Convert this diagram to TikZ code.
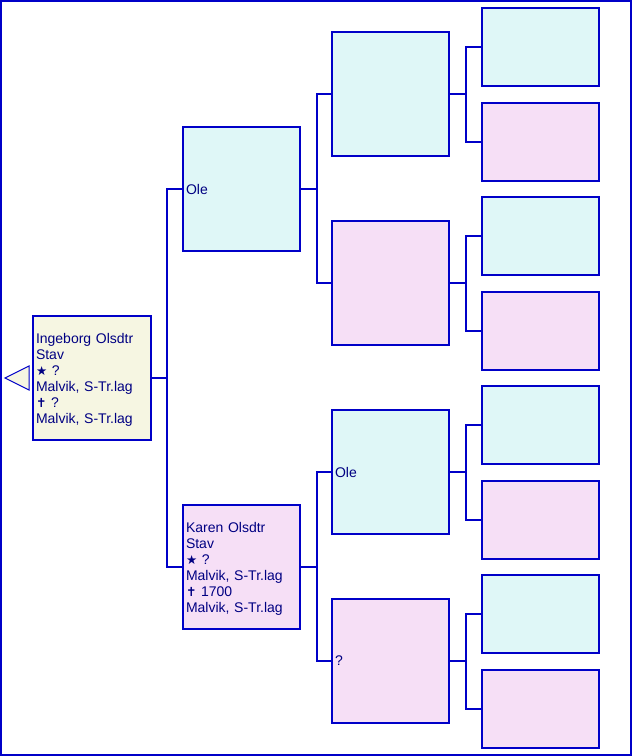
\documentclass[tikz,border=0pt]{standalone}
\usepackage{fontspec}
\usetikzlibrary{calc}
\setmainfont{Liberation Sans}
\newfontfamily\symf{DejaVu Sans}
\newcommand\bstar{{\symf\fontsize{12.5pt}{16pt}\selectfont ★}}
\newcommand\dcross{{\symf\fontsize{12.5pt}{16pt}\selectfont ✝}}
\newcommand\topstrut{\rule{0pt}{14pt}}
\definecolor{lnblue}{RGB}{0,0,200}
\definecolor{txblue}{RGB}{0,0,130}
\definecolor{mfill}{RGB}{223,247,247}
\definecolor{ffill}{RGB}{246,223,246}
\definecolor{rfill}{RGB}{246,246,226}
\tikzset{
  pbox/.style={draw=lnblue, line width=2pt, rectangle, inner xsep=3pt, inner ysep=0pt,
    text width=111pt, align=left, text=txblue,
    font=\fontsize{14pt}{16pt}\selectfont, anchor=center},
  bigbox/.style={pbox, minimum height=124pt},
  smallbox/.style={pbox, minimum height=78pt},
  male/.style={fill=mfill},
  female/.style={fill=ffill},
  conn/.style={draw=lnblue, line width=2pt}
}
\begin{document}
\begin{tikzpicture}[x=1pt,y=-1pt]
\useasboundingbox (0,0) rectangle (632,756);
\draw[lnblue, line width=2pt] (1,1) rectangle (631,755);
% root
\node[bigbox, fill=rfill, text width=112pt] (r) at (92,378) {\topstrut Ingeborg Olsdtr\\Stav\\\bstar\ ?\\Malvik, S-Tr.lag\\\dcross\ ?\\Malvik, S-Tr.lag};
\draw[lnblue, line width=1pt, fill=rfill] (29,366) -- (5,378) -- (29,390) -- cycle;
% gen1
\node[bigbox, male] (f) at (241.5,189) {Ole};
\node[bigbox, female] (m) at (241.5,567) {\topstrut Karen Olsdtr\\Stav\\\bstar\ ?\\Malvik, S-Tr.lag\\\dcross\ 1700\\Malvik, S-Tr.lag};
% gen2
\node[bigbox, male] (ff) at (390.5,94) {};
\node[bigbox, female] (fm) at (390.5,283) {};
\node[bigbox, male] (mf) at (390.5,472) {Ole};
\node[bigbox, female] (mm) at (390.5,661) {?};
% gen3
\node[smallbox, male] (fff) at (540.5,47) {};
\node[smallbox, female] (ffm) at (540.5,142) {};
\node[smallbox, male] (fmf) at (540.5,236) {};
\node[smallbox, female] (fmm) at (540.5,331) {};
\node[smallbox, male] (mff) at (540.5,425) {};
\node[smallbox, female] (mfm) at (540.5,520) {};
\node[smallbox, male] (mmf) at (540.5,614) {};
\node[smallbox, female] (mmm) at (540.5,709) {};
% connectors
\coordinate (vr) at (167,378);
\draw[conn] (r.east) -- (vr);
\draw[conn] (f.west) -| (vr) |- (m.west);
\foreach \p/\a/\b in {f/ff/fm, m/mf/mm, ff/fff/ffm, fm/fmf/fmm, mf/mff/mfm, mm/mmf/mmm}{
  \coordinate (v\p) at ($(\p.east)+(16,0)$);
  \draw[conn] (\p.east) -- (v\p);
  \draw[conn] (\a.west) -| (v\p) |- (\b.west);
}
\end{tikzpicture}
\end{document}
